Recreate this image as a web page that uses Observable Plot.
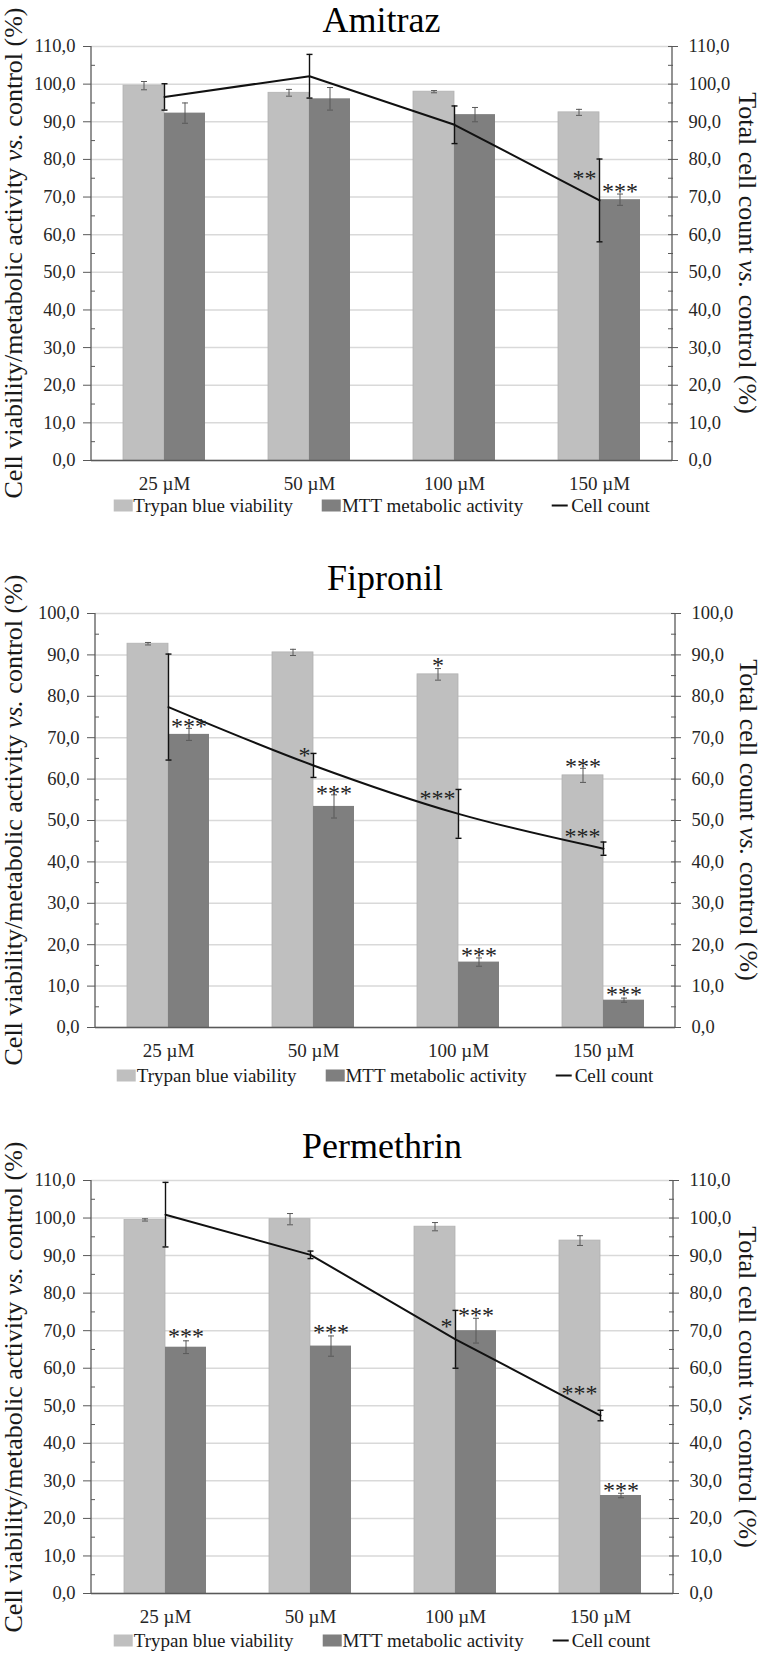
<!DOCTYPE html>
<html>
<head>
<meta charset="utf-8">
<script src="https://cdn.jsdelivr.net/npm/d3@7"></script>
<script src="https://cdn.jsdelivr.net/npm/@observablehq/plot@0.6"></script>
<style>
  html, body { margin: 0; padding: 0; background: #fff; }
  #root { position: relative; width: 762px; height: 1653px; overflow: hidden;
          font-family: "Liberation Serif", "Times New Roman", serif; color: #1a1a1a; }
  .abs { position: absolute; white-space: nowrap; font-family: "Liberation Serif", "Times New Roman", serif; }
  .title { font-size: 36px; line-height: 1; color: #000; transform: translateX(-50%); }
  .ytitle { font-size: 26px; line-height: 1; color: #1a1a1a; }
  .legend { font-size: 19px; line-height: 1; display: flex; align-items: center; gap: 29px; transform: translate(-50%, -50%); color: #1a1a1a; }
  .legend .item { display: flex; align-items: center; }
  .legend .sw { display: inline-block; width: 19px; height: 12px; margin-right: 1px; }
  .legend .ln { display: inline-block; width: 16px; height: 2px; background: #111; margin-right: 3px; }
  svg { position: absolute; left: 0; overflow: visible; }
</style>
</head>
<body>
<div id="root"></div>
<script>
// ---------------- data ----------------
const concentrations = ["25 µM", "50 µM", "100 µM", "150 µM"];
const seriesNames = ["Trypan blue viability", "MTT metabolic activity", "Cell count"];

// Amitraz
const amitrazTrypan   = [99.6, 97.7, 98.0, 92.5];
const amitrazTrypanSd = [1.1, 0.9, 0.3, 0.8];
const amitrazMtt      = [92.3, 96.1, 91.9, 69.3];
const amitrazMttSd    = [2.7, 3.0, 1.9, 1.5];
const amitrazCell     = [96.6, 102.1, 89.2, 69.1];
const amitrazCellSd   = [3.5, 5.8, 5.0, 11.0];
const amitrazStars = [
  {c: "150 µM", s: "cell", y: 76.6, t: "**"},
  {c: "150 µM", s: "mtt",  y: 73.1, t: "***"}
];

// Fipronil
const fipronilTrypan   = [92.7, 90.6, 85.3, 60.9];
const fipronilTrypanSd = [0.3, 0.75, 1.4, 1.7];
const fipronilMtt      = [70.8, 53.4, 15.8, 6.6];
const fipronilMttSd    = [1.45, 2.8, 1.0, 0.5];
const fipronilCell     = [77.4, 63.3, 51.6, 43.2];
const fipronilCellSd   = [12.8, 2.9, 5.9, 1.6];
const fipronilStars = [
  {c: "25 µM",  s: "mtt",    y: 74.2, t: "***"},
  {c: "50 µM",  s: "cell",   y: 67.1, t: "*"},
  {c: "50 µM",  s: "mtt",    y: 58.0, t: "***"},
  {c: "100 µM", s: "trypan", y: 88.9, t: "*"},
  {c: "100 µM", s: "cell",   y: 56.8, t: "***"},
  {c: "100 µM", s: "mtt",    y: 19.0, t: "***"},
  {c: "150 µM", s: "trypan", y: 64.5, t: "***"},
  {c: "150 µM", s: "cell",   y: 47.6, t: "***"},
  {c: "150 µM", s: "mtt",    y: 9.4,  t: "***"}
];

// Permethrin
const permethrinTrypan   = [99.5, 99.7, 97.7, 94.0];
const permethrinTrypanSd = [0.3, 1.5, 1.1, 1.3];
const permethrinMtt      = [65.6, 65.9, 70.0, 26.1];
const permethrinMttSd    = [1.7, 2.7, 3.3, 0.6];
const permethrinCell     = [100.9, 90.2, 67.7, 47.4];
const permethrinCellSd   = [8.6, 1.0, 7.7, 1.4];
const permethrinStars = [
  {c: "25 µM",  s: "mtt",  y: 70.0, t: "***"},
  {c: "50 µM",  s: "mtt",  y: 71.1, t: "***"},
  {c: "100 µM", s: "cell", y: 72.7, t: "*"},
  {c: "100 µM", s: "mtt",  y: 75.8, t: "***"},
  {c: "150 µM", s: "cell", y: 54.9, t: "***"},
  {c: "150 µM", s: "mtt",  y: 29.2, t: "***"}
];

// ---------------- styles / layout ----------------
const LIGHT = "#bfbfbf", DARK = "#7f7f7f", AXIS = "#595959", GRID = "#d9d9d9", ERR = "#595959", LINE = "#111111";
const FONT = '"Liberation Serif", "Times New Roman", serif';

const panels = [
  {name: "Amitraz", yMax: 110, curve: "linear",
   trypan: amitrazTrypan, trypanSd: amitrazTrypanSd, mtt: amitrazMtt, mttSd: amitrazMttSd,
   cell: amitrazCell, cellSd: amitrazCellSd, stars: amitrazStars,
   L: {title: 32, top: 46, bottom: 460, left: 91, right: 672, legend: 505, lt: 14, rt: 747}},
  {name: "Fipronil", yMax: 100, curve: "catmull-rom",
   trypan: fipronilTrypan, trypanSd: fipronilTrypanSd, mtt: fipronilMtt, mttSd: fipronilMttSd,
   cell: fipronilCell, cellSd: fipronilCellSd, stars: fipronilStars,
   L: {title: 590, top: 613, bottom: 1027, left: 95, right: 675, legend: 1075, lt: 14, rt: 748}},
  {name: "Permethrin", yMax: 110, curve: "linear",
   trypan: permethrinTrypan, trypanSd: permethrinTrypanSd, mtt: permethrinMtt, mttSd: permethrinMttSd,
   cell: permethrinCell, cellSd: permethrinCellSd, stars: permethrinStars,
   L: {title: 1158, top: 1180, bottom: 1593, left: 91, right: 673, legend: 1640, lt: 14, rt: 747}}
];

const root = document.getElementById("root");
const fmt = d => d3.format(".1f")(d).replace(".", ",");
const BAR = 41;          // px width of each bar
const HALF = BAR / 2;
const capSymbol = {draw(ctx) { ctx.moveTo(-3, 0); ctx.lineTo(3, 0); }};

function sideLines(index, scales, values, dims) {
  const ns = "http://www.w3.org/2000/svg";
  const g = document.createElementNS(ns, "g");
  const x0 = dims.marginLeft, x1 = dims.width - dims.marginRight;
  const y0 = dims.marginTop, y1 = dims.height - dims.marginBottom;
  for (const x of [x0, x1]) {
    const l = document.createElementNS(ns, "line");
    l.setAttribute("x1", x); l.setAttribute("x2", x);
    l.setAttribute("y1", y0); l.setAttribute("y2", y1);
    l.setAttribute("stroke", AXIS); l.setAttribute("stroke-width", 1.3);
    g.appendChild(l);
  }
  return g;
}

function addDiv(cls, html, style) {
  const d = document.createElement("div");
  d.className = "abs " + cls;
  d.innerHTML = html;
  Object.assign(d.style, style);
  root.appendChild(d);
  return d;
}

for (const P of panels) {
  const L = P.L;
  const rows = concentrations.map((c, i) => ({
    c, trypan: P.trypan[i], trypanSd: P.trypanSd[i], mtt: P.mtt[i], mttSd: P.mttSd[i],
    cell: P.cell[i], cellSd: P.cellSd[i]
  }));
  const yMajor = d3.range(0, P.yMax + 1, 10);
  const yMinor = d3.range(5, P.yMax, 10);
  const mt = 14, mb = 40;
  const starOpts = {x: "c", y: "y", text: "t", fontSize: 24, fontFamily: FONT, fill: "#222", lineAnchor: "middle", dy: 6};

  const chart = Plot.plot({
    width: 762,
    height: (L.bottom - L.top) + mt + mb,
    marginTop: mt, marginBottom: mb, marginLeft: L.left, marginRight: 762 - L.right,
    style: {fontFamily: FONT, fontSize: "18.5px", color: "#262626", background: "transparent", overflow: "visible"},
    x: {type: "band", domain: concentrations, paddingInner: 0.435, paddingOuter: 0.2175},
    y: {domain: [0, P.yMax]},
    marks: [
      Plot.gridY(yMajor, {stroke: GRID, strokeOpacity: 1, strokeWidth: 1.5}),
      Plot.barY(rows, {x: "c", y: "trypan", fill: LIGHT, stroke: "#b2b2b2", strokeWidth: 0.8, insetRight: BAR}),
      Plot.barY(rows, {x: "c", y: "mtt", fill: DARK, insetLeft: BAR}),
      Plot.ruleY([0], {stroke: AXIS, strokeWidth: 1.3}),
      sideLines,
      // trypan error bars
      Plot.ruleX(rows, {x: "c", y1: d => d.trypan - d.trypanSd, y2: d => d.trypan + d.trypanSd, dx: -HALF, stroke: ERR, strokeWidth: 1}),
      Plot.dot(rows, {x: "c", y: d => d.trypan - d.trypanSd, dx: -HALF, symbol: capSymbol, stroke: ERR, strokeWidth: 1}),
      Plot.dot(rows, {x: "c", y: d => d.trypan + d.trypanSd, dx: -HALF, symbol: capSymbol, stroke: ERR, strokeWidth: 1}),
      // mtt error bars
      Plot.ruleX(rows, {x: "c", y1: d => d.mtt - d.mttSd, y2: d => d.mtt + d.mttSd, dx: HALF, stroke: ERR, strokeWidth: 1}),
      Plot.dot(rows, {x: "c", y: d => d.mtt - d.mttSd, dx: HALF, symbol: capSymbol, stroke: ERR, strokeWidth: 1}),
      Plot.dot(rows, {x: "c", y: d => d.mtt + d.mttSd, dx: HALF, symbol: capSymbol, stroke: ERR, strokeWidth: 1}),
      // cell count line + error bars
      Plot.line(rows, {x: "c", y: "cell", curve: P.curve, stroke: LINE, strokeWidth: 2}),
      Plot.ruleX(rows, {x: "c", y1: d => d.cell - d.cellSd, y2: d => d.cell + d.cellSd, stroke: LINE, strokeWidth: 1.4}),
      Plot.dot(rows, {x: "c", y: d => d.cell - d.cellSd, symbol: capSymbol, stroke: LINE, strokeWidth: 1.4}),
      Plot.dot(rows, {x: "c", y: d => d.cell + d.cellSd, symbol: capSymbol, stroke: LINE, strokeWidth: 1.4}),
      // significance stars
      Plot.text(P.stars.filter(d => d.s === "trypan"), {...starOpts, dx: -HALF, textAnchor: "middle"}),
      Plot.text(P.stars.filter(d => d.s === "mtt"), {...starOpts, dx: HALF, textAnchor: "middle"}),
      Plot.text(P.stars.filter(d => d.s === "cell"), {...starOpts, dx: -3, textAnchor: "end"}),
      // axes
      Plot.axisY(yMajor, {anchor: "left", tickSize: 8, tickPadding: 8, tickFormat: fmt, label: null, stroke: AXIS}),
      Plot.axisY(yMinor, {anchor: "left", tickSize: -4, tickFormat: () => "", label: null, stroke: AXIS}),
      Plot.axisY(yMajor, {anchor: "right", tickSize: 5, tickPadding: 11, tickFormat: fmt, label: null, stroke: AXIS}),
      Plot.axisY(yMajor, {anchor: "right", tickSize: -5, tickFormat: () => "", label: null, stroke: AXIS}),
      Plot.axisY(yMinor, {anchor: "right", tickSize: -5, tickFormat: () => "", label: null, stroke: AXIS}),
      Plot.axisX({tickSize: 0, tickPadding: 16, fontSize: 19, label: null})
    ]
  });
  chart.style.top = (L.top - mt) + "px";
  root.appendChild(chart);

  const cx = (L.left + L.right) / 2;
  const cy = (L.top + L.bottom) / 2;
  // line-height 1 → baseline sits at about 0.84em below the box top
  addDiv("title", P.name, {left: cx + "px", top: (L.title - 0.8375 * 36) + "px"});
  addDiv("ytitle", "Cell viability/metabolic activity <i>vs.</i> control (%)",
    {left: L.lt + "px", top: cy + "px", transform: "translate(-50%, -50%) rotate(-90deg)"});
  addDiv("ytitle", "Total cell count <i>vs.</i> control (%)",
    {left: L.rt + "px", top: cy + "px", transform: "translate(-50%, -50%) rotate(90deg)"});
  addDiv("legend",
    `<span class="item"><span class="sw" style="background:${LIGHT}"></span>${seriesNames[0]}</span>` +
    `<span class="item"><span class="sw" style="background:${DARK}"></span>${seriesNames[1]}</span>` +
    `<span class="item"><span class="ln"></span>${seriesNames[2]}</span>`,
    {left: cx + "px", top: L.legend + "px"});
}
</script>
</body>
</html>
